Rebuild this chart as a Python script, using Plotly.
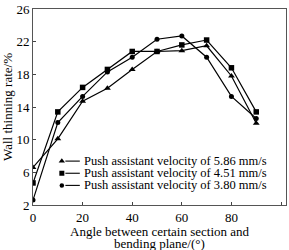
import plotly.graph_objects as go

angles = [0, 10, 20, 30, 40, 50, 60, 70, 80, 90]
v586 = [6.6, 10.1, 14.7, 16.3, 18.6, 20.8, 20.9, 21.5, 17.8, 12.0]
v451 = [4.7, 13.4, 16.4, 18.6, 20.8, 20.8, 21.6, 22.2, 18.8, 13.4]
v380 = [2.6, 12.1, 15.3, 18.3, 20.1, 22.3, 22.7, 20.1, 15.3, 12.6]
names = ["Push assistant velocity of 5.86 mm/s",
         "Push assistant velocity of 4.51 mm/s",
         "Push assistant velocity of 3.80 mm/s"]
symbols = ["triangle-up", "square", "circle"]
sizes = [6, 5.5, 5]
xticks = [0, 20, 40, 60, 80, 100]
yticks = [2, 6, 10, 14, 18, 22, 26]

# legend key layout (fraction of plot area)
leg_rows = [0.224, 0.162, 0.100]
leg_marker_x = 0.114
leg_line_x = [0.128, 0.185]
leg_text_x = 0.195

FONT = "Liberation Serif"
fig = go.Figure()
for ys, nm, sym, sz in zip([v586, v451, v380], names, symbols, sizes):
    fig.add_trace(go.Scatter(
        x=angles, y=ys, name=nm, mode="lines+markers",
        line=dict(color="black", width=1.2),
        marker=dict(symbol=sym, size=sz, color="black"),
        showlegend=False,
    ))

# manual legend keys on an overlay axis with 0..1 range
for ry, nm, sym, sz in zip(leg_rows, names, symbols, sizes):
    fig.add_trace(go.Scatter(x=[leg_marker_x], y=[ry], mode="markers",
                             marker=dict(symbol=sym, size=sz - 0.5, color="black"),
                             xaxis="x2", yaxis="y2", showlegend=False, hoverinfo="skip"))
    fig.add_trace(go.Scatter(x=leg_line_x, y=[ry, ry], mode="lines",
                             line=dict(color="black", width=1.1),
                             xaxis="x2", yaxis="y2", showlegend=False, hoverinfo="skip"))
    fig.add_annotation(x=leg_text_x, y=ry, xref="paper", yref="paper",
                       text=nm, showarrow=False, xanchor="left", yanchor="middle",
                       font=dict(size=12.5, family=FONT, color="black"))

# x-axis title as two tight lines
fig.add_annotation(x=0.5, y=-0.135, xref="paper", yref="paper",
                   text="Angle between certain section and", showarrow=False,
                   xanchor="center", yanchor="middle", font=dict(size=13, family=FONT))
fig.add_annotation(x=0.5, y=-0.195, xref="paper", yref="paper",
                   text="bending plane/(°)", showarrow=False,
                   xanchor="center", yanchor="middle", font=dict(size=13, family=FONT))

fig.update_layout(
    width=289, height=250,
    margin=dict(l=33, r=2, t=4, b=45),
    paper_bgcolor="white", plot_bgcolor="white",
    font=dict(family=FONT, size=13, color="black"),
    showlegend=False,
    xaxis2=dict(overlaying="x", range=[0, 1], visible=False, domain=[0, 1]),
    yaxis2=dict(overlaying="y", range=[0, 1], visible=False),
)
fig.update_xaxes(
    selector=dict(anchor="y"),
)
fig.update_layout(
    xaxis=dict(range=[0, 102], tickvals=xticks, ticks="inside", ticklen=3,
               showline=True, linecolor="#555", linewidth=1, mirror=True,
               showgrid=False, zeroline=False,
               tickfont=dict(size=13, family=FONT)),
    yaxis=dict(range=[2, 26], tickvals=yticks, ticks="inside", ticklen=3,
               showline=True, linecolor="#555", linewidth=1, mirror=True,
               showgrid=False, zeroline=False, ticklabeloverflow="allow",
               tickfont=dict(size=13, family=FONT),
               title=dict(text="Wall thinning rate/%", font=dict(size=13, family=FONT),
                          standoff=2)),
)
fig.write_html("out.html")
